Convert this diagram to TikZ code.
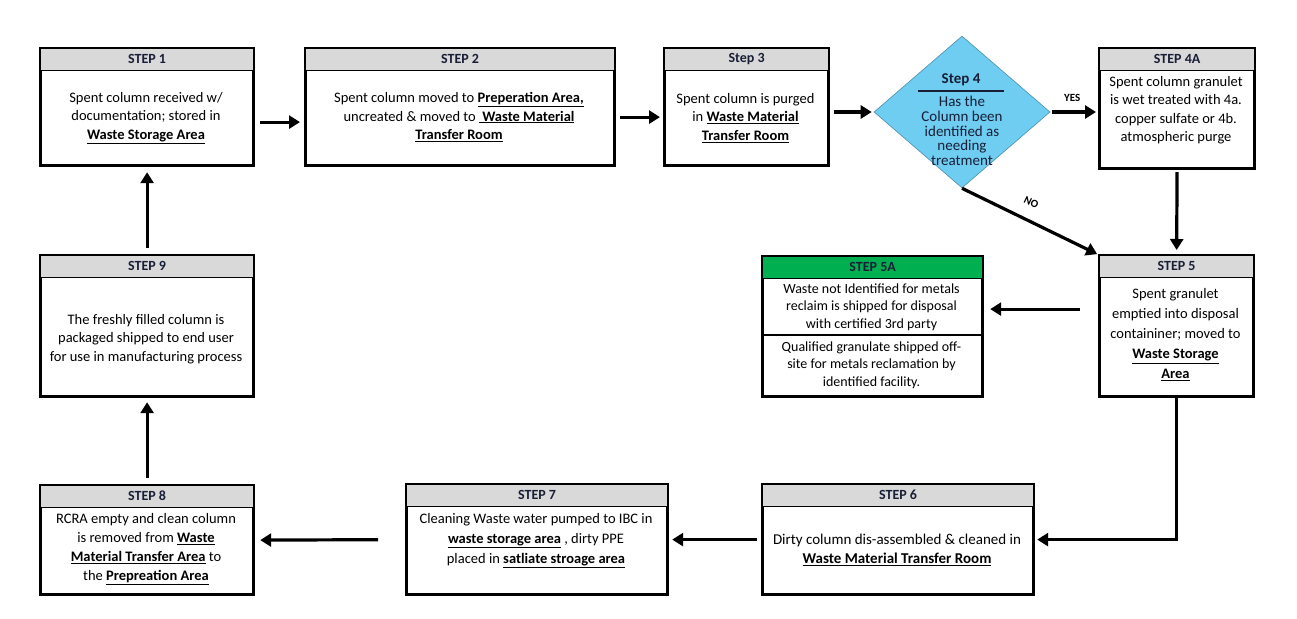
\documentclass[tikz,border=0pt]{standalone}
\usepackage{fontspec}
\setmainfont{Carlito}
\usetikzlibrary{arrows.meta,shapes.geometric}
\definecolor{hdrgray}{RGB}{217,217,217}
\definecolor{hdrgreen}{RGB}{0,176,80}
\definecolor{diamblue}{RGB}{110,205,240}
\definecolor{hdrtext}{RGB}{25,30,55}
\newcommand{\ul}[1]{\underline{\textbf{#1}}}
\tikzset{
  box/.style={draw, line width=2.2pt, fill=white, anchor=north west, inner sep=0pt},
  hdr/.style={fill=hdrgray, anchor=north, inner sep=0pt, minimum height=22pt, text=hdrtext,
    font=\bfseries\fontsize{14}{16}\selectfont},
  body/.style={align=center, inner sep=0pt, font=\fontsize{14.5}{18.5}\selectfont},
  outline/.style={line width=2.2pt},
  hline/.style={line width=1.6pt},
  arr/.style={line width=3.2pt, -{Triangle[length=11pt,width=13pt]}},
  lbl/.style={font=\bfseries\fontsize{11}{12}\selectfont, inner sep=1pt},
}
\begin{document}
\begin{tikzpicture}[x=1pt,y=1pt]
\useasboundingbox[fill=white] (0,0) rectangle (1297,-618);

% ---------- boxes ----------
% Step 1
\node[box, minimum width=212pt, minimum height=116pt] (s1) at (40,-48) {};
\node[hdr, minimum width=212pt] (s1h) at (s1.north) {STEP 1};
\draw[hline] (s1h.south west) -- (s1h.south east);
\draw[outline] (s1.north west) rectangle (s1.south east);
\node[body] (s1t) at (146,-118) {Spent column received w/\\documentation; stored in\\\ul{Waste Storage Area}};

% Step 2
\node[box, minimum width=308pt, minimum height=116pt] (s2) at (305,-48) {};
\node[hdr, minimum width=308pt] (s2h) at (s2.north) {STEP 2};
\draw[hline] (s2h.south west) -- (s2h.south east);
\draw[outline] (s2.north west) rectangle (s2.south east);
\node[body] (s2t) at (459,-117) {Spent column moved to \ul{Preperation Area,}\\uncreated \& moved to \ul{ Waste Material}\\\ul{Transfer Room}};

% Step 3
\node[box, minimum width=163pt, minimum height=116pt] (s3) at (664,-48) {};
\node[hdr, minimum width=163pt] (s3h) at (s3.north) {Step 3};
\draw[hline] (s3h.south west) -- (s3h.south east);
\draw[outline] (s3.north west) rectangle (s3.south east);
\node[body] (s3t) at (745.5,-118) {Spent column is purged\\in \ul{Waste Material}\\\ul{Transfer Room}};

% Step 4 (decision)
\node[diamond, draw=diamblue!70!black, line width=0.6pt, fill=diamblue, minimum width=176pt, minimum height=152pt, inner sep=0pt] (s4) at (962,-112) {};
\node[inner sep=0pt, text=hdrtext, font=\bfseries\fontsize{15}{16}\selectfont] (s4h) at (961,-80) {Step 4};
\draw[line width=1.2pt, draw=hdrtext] ([xshift=-43pt,yshift=-11pt]s4h.center) -- ([xshift=43pt,yshift=-11pt]s4h.center);
\node[align=center, inner sep=0pt, text=hdrtext, font=\fontsize{15}{14.6}\selectfont] (s4t) at (962,-131) {Has the\\Column been\\identified as\\needing\\treatment};

% Step 4A
\node[box, minimum width=154pt, minimum height=119pt] (s4a) at (1099,-48) {};
\node[hdr, minimum width=154pt] (s4ah) at (s4a.north) {STEP 4A};
\draw[hline] (s4ah.south west) -- (s4ah.south east);
\draw[outline] (s4a.north west) rectangle (s4a.south east);
\node[body] (s4at) at (1176,-110) {Spent column granulet\\is wet treated with 4a.\\copper sulfate or 4b.\\atmospheric purge};

% Step 5
\node[box, minimum width=153pt, minimum height=140pt] (s5) at (1099,-255) {};
\node[hdr, minimum width=153pt] (s5h) at (s5.north) {STEP 5};
\draw[hline] (s5h.south west) -- (s5h.south east);
\draw[outline] (s5.north west) rectangle (s5.south east);
\node[body, font=\fontsize{14.5}{20}\selectfont] (s5t) at (1175.5,-335) {Spent granulet\\emptied into disposal\\containiner; moved to\\\ul{Waste Storage}\\\ul{Area}};

% Step 5A
\node[box, minimum width=219pt, minimum height=139pt] (s5a) at (762,-256) {};
\node[hdr, fill=hdrgreen, minimum width=219pt] (s5ah) at (s5a.north) {STEP 5A};
\draw[hline] (s5ah.south west) -- (s5ah.south east);
\coordinate (s5amidl) at (762,-335);
\coordinate (s5amidr) at (981,-335);
\draw[line width=1.4pt] (s5amidl) -- (s5amidr);
\draw[outline] (s5a.north west) rectangle (s5a.south east);
\node[body, font=\fontsize{14}{17.5}\selectfont] (s5at1) at (871.5,-307) {Waste not Identified for metals\\reclaim is shipped for disposal\\with certified 3rd party};
\node[body, font=\fontsize{14}{17.5}\selectfont] (s5at2) at (871.5,-365) {Qualified granulate shipped off-\\site for metals reclamation by\\identified facility.};

% Step 9
\node[box, minimum width=212pt, minimum height=140pt] (s9) at (40,-255) {};
\node[hdr, minimum width=212pt] (s9h) at (s9.north) {STEP 9};
\draw[hline] (s9h.south west) -- (s9h.south east);
\draw[outline] (s9.north west) rectangle (s9.south east);
\node[body] (s9t) at (146,-339) {The freshly filled column is\\packaged shipped to end user\\for use in manufacturing process};

% Step 8
\node[box, minimum width=212pt, minimum height=108pt] (s8) at (40,-485) {};
\node[hdr, minimum width=212pt] (s8h) at (s8.north) {STEP 8};
\draw[hline] (s8h.south west) -- (s8h.south east);
\draw[outline] (s8.north west) rectangle (s8.south east);
\node[body, font=\fontsize{14.5}{19}\selectfont] (s8t) at (146,-549) {RCRA empty and clean column\\is removed from \ul{Waste}\\\ul{Material Transfer Area} to\\the \ul{Prepreation Area}};

% Step 7
\node[box, minimum width=260pt, minimum height=109pt] (s7) at (406,-484) {};
\node[hdr, minimum width=260pt] (s7h) at (s7.north) {STEP 7};
\draw[hline] (s7h.south west) -- (s7h.south east);
\draw[outline] (s7.north west) rectangle (s7.south east);
\node[body, font=\fontsize{14.5}{20}\selectfont] (s7t) at (536,-541) {Cleaning Waste water pumped to IBC in\\\ul{waste storage area} , dirty PPE\\placed in \ul{satliate stroage area}};

% Step 6
\node[box, minimum width=270pt, minimum height=109pt] (s6) at (762,-484) {};
\node[hdr, minimum width=270pt] (s6h) at (s6.north) {STEP 6};
\draw[hline] (s6h.south west) -- (s6h.south east);
\draw[outline] (s6.north west) rectangle (s6.south east);
\node[body, font=\fontsize{15}{19}\selectfont] (s6t) at (897,-550) {Dirty column dis-assembled \& cleaned in\\\ul{Waste Material Transfer Room}};

% ---------- connectors ----------
\draw[arr, shorten <=6pt, shorten >=5pt] ([yshift=-15pt]s1.east) -- ([yshift=-15pt]s2.west);
\draw[arr, shorten <=5pt, shorten >=4pt] ([yshift=-10pt]s2.east) -- ([yshift=-10pt]s3.west);
\draw[arr, shorten <=5pt, shorten >=2pt] (s3.east |- s4.west) -- (s4.west);
\draw[arr, shorten <=2pt, shorten >=3pt] (s4.east) -- node[lbl, above=8pt, pos=0.45] (yes) {YES} (s4.east -| s4a.west);
\draw[arr, shorten <=3pt, shorten >=5pt] (s4a.south) -- (s5.north);
\draw[arr, shorten <=0pt, shorten >=2pt] (s4.south) -- node[lbl, sloped, above=11pt, pos=0.45] (no) {NO} (s5.north west);
\draw[arr, shorten <=19pt, shorten >=7pt] ([yshift=17pt]s5.west) -- ([yshift=17pt]s5.west -| s5a.east);
\draw[arr, shorten >=3pt] (s5.south) |- (s6.east);
\draw[arr, shorten <=5pt, shorten >=4pt] (s6.west) -- (s7.east);
\draw[arr, shorten <=28pt, shorten >=6pt] (s7.west) -- (s8.east);
\draw[arr, shorten <=7pt, shorten >=5pt] (s8.north) -- (s9.south);
\draw[arr, shorten <=7pt, shorten >=6pt] (s9.north) -- (s1.south);
\end{tikzpicture}
\end{document}
